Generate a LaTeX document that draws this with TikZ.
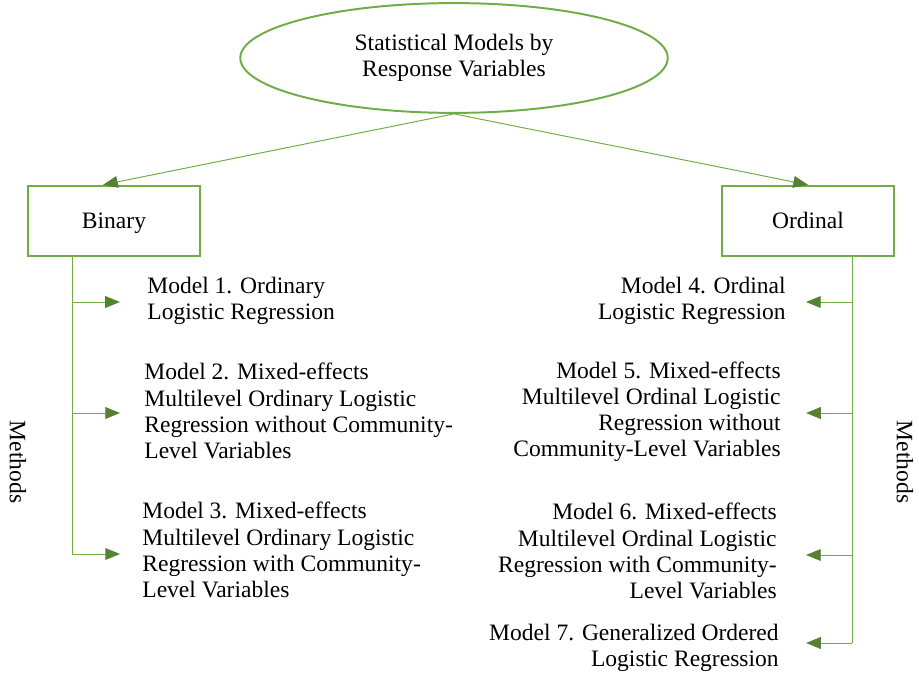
\documentclass[tikz,border=0pt]{standalone}
\usepackage{fontspec}
\setmainfont{Liberation Serif}
\newfontfamily\timesfont{Liberation Serif}
\usetikzlibrary{shapes.geometric,arrows.meta}
\definecolor{linegreen}{RGB}{112,173,71}
\definecolor{tipgreen}{RGB}{84,130,53}
\tikzset{
  txt/.style={inner sep=0pt, font=\timesfont\fontsize{12}{13.3}\selectfont},
  box/.style={draw=linegreen, line width=1.2pt, minimum width=87.7pt,
    minimum height=35.7pt, txt, text height=9.5pt, text depth=1.5pt},
  link/.style={draw=linegreen, line width=0.5pt,
    -{Triangle[length=7.5pt,width=6pt,color=tipgreen]}},
  trunk/.style={draw=linegreen, line width=0.5pt},
}
\begin{document}
\begin{tikzpicture}[x=0.51pt,y=-0.51pt]
  \useasboundingbox (0,0) rectangle (919,674);
  \node[ellipse, draw=linegreen, line width=1pt, minimum width=218pt,
    minimum height=56pt, txt, align=center] (top) at (454,58)
    {Statistical Models by\\Response Variables};
  \node[box] (bin) at (114,221) {Binary};
  \node[box] (ord) at (808,221) {Ordinal};
  % binary models
  \node[txt, align=left, anchor=west] (m1) at (147,301)
    {Model 1. Ordinary\\Logistic Regression};
  \node[txt, align=left, anchor=west] (m2) at (144,411)
    {Model 2. Mixed-effects\\Multilevel Ordinary Logistic\\Regression without Community-\\Level Variables};
  \node[txt, align=left, anchor=west] (m3) at (142,550)
    {Model 3. Mixed-effects\\Multilevel Ordinary Logistic\\Regression with Community-\\Level Variables};
  % ordinal models
  \node[txt, align=right, anchor=east] (m4) at (786,301)
    {Model 4. Ordinal\\Logistic Regression};
  \node[txt, align=right, anchor=east] (m5) at (781,412)
    {Model 5. Mixed-effects\\Multilevel Ordinal Logistic\\Regression without\\Community-Level Variables};
  \node[txt, align=right, anchor=east] (m6) at (777,551)
    {Model 6. Mixed-effects\\Multilevel Ordinal Logistic\\Regression with Community-\\Level Variables};
  \node[txt, align=right, anchor=east] (m7) at (779,648)
    {Model 7. Generalized Ordered\\Logistic Regression};
  \node[txt, rotate=-90] (lm) at (18,462) {Methods};
  \node[txt, rotate=-90] (rm) at (905,462) {Methods};
  \coordinate (l1) at (72,302);
  \coordinate (l2) at (72,413);
  \coordinate (l3) at (72,554);
  \coordinate (r1) at (852,302);
  \coordinate (r2) at (852,413);
  \coordinate (r3) at (852,555);
  \coordinate (r4) at (852,643);
  \draw[link] (top.south) -- ([xshift=-5.6pt]bin.north);
  \draw[link] (top.south) -- (ord.north);
  \draw[trunk] (bin.south -| l1) -- (l3);
  \draw[trunk] (ord.south -| r1) -- (r4);
  \draw[link, shorten >=13.8pt] (l1) -- (l1 -| m1.west);
  \draw[link, shorten >=12.2pt] (l2) -- (l2 -| m2.west);
  \draw[link, shorten >=11.2pt] (l3) -- (l3 -| m3.west);
  \draw[link, shorten >=10.2pt] (r1) -- (r1 -| m4.east);
  \draw[link, shorten >=12.8pt] (r2) -- (r2 -| m5.east);
  \draw[link, shorten >=14.8pt] (r3) -- (r3 -| m6.east);
  \draw[link, shorten >=13.8pt] (r4) -- (r4 -| m7.east);
\end{tikzpicture}
\end{document}
